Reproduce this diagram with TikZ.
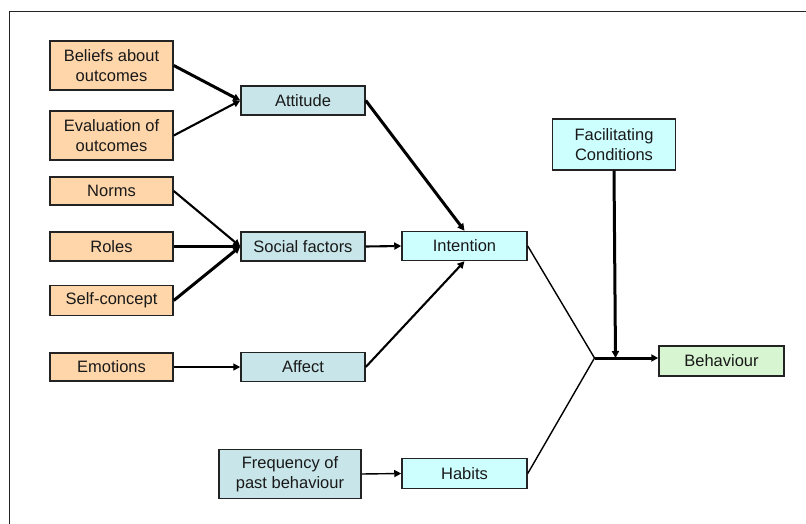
\documentclass[tikz,border=0pt]{standalone}
\usepackage{fontspec}
\setmainfont{Liberation Sans}
\usetikzlibrary{arrows.meta}
\definecolor{peach}{RGB}{255,214,170}
\definecolor{greyblue}{RGB}{200,230,233}
\definecolor{paleCyan}{RGB}{206,255,255}
\definecolor{paleGreen}{RGB}{214,245,208}
\definecolor{edge}{RGB}{35,35,35}
\begin{document}
\begin{tikzpicture}[x=1pt,y=-1pt,
  box/.style={draw=edge,line width=1.5pt,inner sep=0pt,align=center,font=\fontsize{16.5pt}{20pt}\selectfont,text=black!90},
  src/.style={box,fill=peach,minimum width=123pt},
  mid/.style={box,fill=greyblue,minimum width=124pt,minimum height=29pt},
  cyanbox/.style={box,fill=paleCyan},
  tip/.style={-{Triangle[length=7pt,width=7pt]}},
  thickline/.style={line width=3pt},
  medline/.style={line width=2.1pt},
  thinline/.style={line width=1.4pt}]
\useasboundingbox (0,0) rectangle (806,524);
\draw[line width=1.8pt,edge] (9.5,524) -- (9.5,11.5) -- (806,11.5);
% source boxes
\node[src,minimum height=49pt] (bel) at (111.5,65.5) {Beliefs about\\outcomes};
\node[src,minimum height=49pt] (eva) at (111.5,135.5) {Evaluation of\\outcomes};
\node[src,minimum height=28pt] (nor) at (111.5,191) {Norms};
\node[src,minimum height=29pt] (rol) at (111.5,246.5) {Roles};
\node[src,minimum height=30pt] (sel) at (111.5,300.5) {Self-concept};
\node[src,minimum height=28pt] (emo) at (111.5,367) {Emotions};
% middle boxes
\node[mid] (att) at (303,100.5) {Attitude};
\node[mid] (soc) at (303,246.5) {Social factors};
\node[mid] (aff) at (303,367) {Affect};
\node[box,fill=greyblue,minimum width=142pt,minimum height=49pt] (fre) at (290,474) {Frequency of\\past behaviour};
% right boxes
\node[cyanbox,minimum width=125pt,minimum height=29pt] (int) at (464.5,246) {Intention};
\node[cyanbox,minimum width=125pt,minimum height=30pt] (hab) at (464.5,473.5) {Habits};
\node[cyanbox,minimum width=123pt,minimum height=51pt] (fac) at (614,144.5) {Facilitating\\Conditions};
\node[box,fill=paleGreen,minimum width=125pt,minimum height=30pt] (beh) at (721.5,361) {Behaviour};
\coordinate (jn) at (594.5,358);
\coordinate (jf) at (615.5,358);
% connectors
\draw[thickline,tip] (bel.east) -- (att.west);
\draw[medline,tip] (eva.east) -- (att.west);
\draw[medline,tip] (nor.east) -- (soc.west);
\draw[thickline,tip] (rol.east) -- (soc.west);
\draw[thickline,tip] (sel.east) -- (soc.west);
\draw[thinline,tip] (emo.east) -- (aff.west);
\draw[medline,tip] (soc.east) -- (int.west);
\draw[thickline,tip] (att.east) -- (int.north);
\draw[medline,tip] (aff.east) -- (int.south);
\draw[thinline,tip] (fre.east) -- (hab.west);
\draw[thinline] (int.east) -- (jn) -- (hab.east);
\draw[thickline,tip] (jn) -- (beh.west |- jn);
\draw[thickline,tip] (fac.south) -- (jf);
\end{tikzpicture}
\end{document}
